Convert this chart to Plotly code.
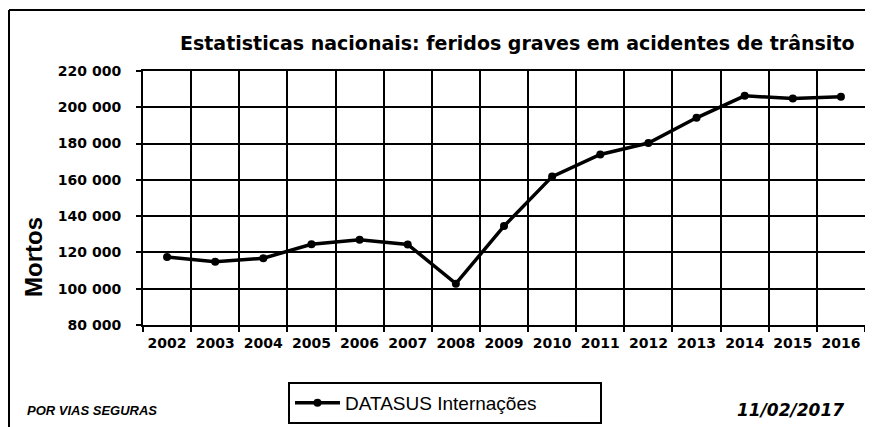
import plotly.graph_objects as go

years = ["2002", "2003", "2004", "2005", "2006", "2007", "2008", "2009",
         "2010", "2011", "2012", "2013", "2014", "2015", "2016"]
internacoes = [117500, 114800, 116800, 124500, 127000, 124400, 102800, 134500,
               161800, 174000, 180300, 194200, 206300, 204800, 205800]
series_name = "DATASUS Internações"
title_text = "Estatisticas nacionais: feridos graves em acidentes de trânsito"
y_title = "Mortos"
source_text = "POR VIAS SEGURAS"
date_text = "11/02/2017"

# page body has an 8px margin, so the figure is sized to the visible window
OFF = 8
W, H = 873 - OFF, 427 - OFF
ML, MT = 143 - OFF, 71 - OFF
PW, PH = 722, 254
MR, MB = W - ML - PW, H - MT - PH


def px(x):
    # window x pixel -> paper coordinate
    return (x - OFF - ML) / PW


def py(y):
    # window y pixel -> paper coordinate
    return (MT + PH - (y - OFF)) / PH


fig = go.Figure()
fig.add_trace(go.Scatter(
    x=years, y=internacoes, mode="lines+markers", name=series_name,
    line=dict(color="black", width=3.5),
    marker=dict(symbol="circle", size=8, color="black"),
))

fig.update_layout(
    width=W, height=H,
    margin=dict(l=ML, r=MR, t=MT, b=MB, autoexpand=False),
    paper_bgcolor="white", plot_bgcolor="white",
    separators=", ",
    showlegend=True,
    legend=dict(
        orientation="h",
        x=px(288), y=py(382), xanchor="left", yanchor="top",
        bordercolor="black", borderwidth=2, bgcolor="white",
        font=dict(family="Liberation Sans", size=19, color="black"),
        itemwidth=45, entrywidth=250, entrywidthmode="pixels",
    ),
    font=dict(family="DejaVu Sans", color="black"),
)

fig.update_xaxes(
    type="category", range=[-0.5, 14.5], automargin=False, tickangle=0,
    showgrid=True, gridcolor="black", gridwidth=2,
    showline=True, linecolor="black", linewidth=2, mirror=True,
    ticks="outside", tickson="boundaries", ticklen=5, tickcolor="black", tickwidth=2,
    tickfont=dict(family="DejaVu Sans", size=14, color="black", weight="bold"),
    ticklabelstandoff=4,
)
fig.update_yaxes(
    range=[80000, 220000], dtick=20000, tickformat=",.0f", automargin=False,
    showgrid=True, gridcolor="black", gridwidth=2,
    showline=True, linecolor="black", linewidth=2, mirror=True,
    ticks="outside", ticklen=5, tickcolor="black", tickwidth=2,
    tickfont=dict(family="DejaVu Sans", size=14, color="black", weight="bold"),
    ticklabelstandoff=12, zeroline=False,
)

annotations = [
    dict(text=title_text, x=px(517), y=py(43), xanchor="center", yanchor="middle",
         font=dict(family="DejaVu Sans", size=19, color="black", weight="bold")),
    dict(text=y_title, x=px(33), y=py(257), xanchor="center", yanchor="middle", textangle=-90,
         font=dict(family="Liberation Sans", size=24, color="black", weight="bold")),
    dict(text=source_text, x=px(25), y=py(410), xanchor="left", yanchor="middle",
         font=dict(family="Liberation Sans", size=13, color="black", weight="bold", style="italic")),
    dict(text=date_text, x=px(735), y=py(410), xanchor="left", yanchor="middle",
         font=dict(family="DejaVu Sans", size=17, color="black", weight="bold", style="italic")),
]
for a in annotations:
    a.update(xref="paper", yref="paper", showarrow=False)
fig.update_layout(annotations=annotations)

fig.add_shape(type="line", xref="paper", yref="paper",
              x0=px(9), x1=px(9), y0=py(10), y1=py(440),
              line=dict(color="black", width=2))
fig.add_shape(type="line", xref="paper", yref="paper",
              x0=px(9), x1=px(880), y0=py(10), y1=py(10),
              line=dict(color="black", width=2))

fig.write_html("out.html")
